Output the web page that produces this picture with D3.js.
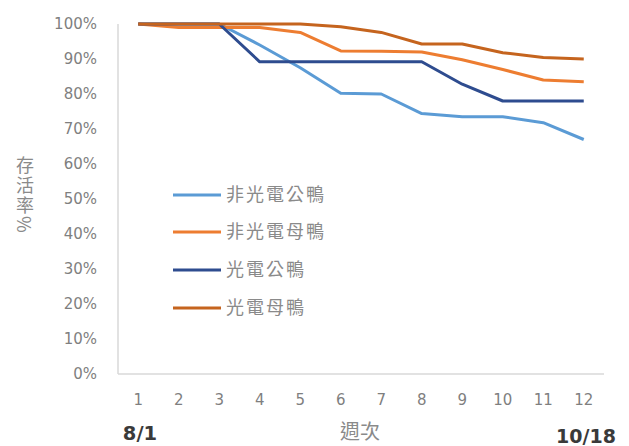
<!DOCTYPE html>
<html><head><meta charset="utf-8">
<script src="https://cdn.jsdelivr.net/npm/d3@7"></script>
<style>body{margin:0;background:#fff}svg{display:block}</style>
</head><body><div id="c"></div>
<script>
const weeks = ["1","2","3","4","5","6","7","8","9","10","11","12"];
const seriesNames = ["非光電公鴨","非光電母鴨","光電公鴨","光電母鴨"];
const nonPvMale   = [100,100,100,94,87.5,80.2,80,74.4,73.5,73.5,71.8,67];
const nonPvFemale = [100,99,99,99,97.6,92.3,92.2,92,89.8,87,84,83.5];
const pvMale      = [100,100,100,89.2,89.2,89.2,89.2,89.2,82.8,78,78,78];
const pvFemale    = [100,100,100,100,100,99.2,97.6,94.3,94.3,91.8,90.4,90];
const colors = ["#5B9BD5","#ED7D31","#2E4C8F","#C5641E"];
const yTicks = [0,10,20,30,40,50,60,70,80,90,100];

const W=629,H=446;
const svg=d3.select("#c").append("svg").attr("width",W).attr("height",H);
const x=d3.scaleBand().domain(weeks).range([118,604]);
const y=d3.scaleLinear().domain([0,100]).range([374,24]);
const font="'DejaVu Sans', sans-serif";
const cjk="'Noto Sans CJK TC','Noto Sans CJK SC',sans-serif";

// axes lines
svg.append("line").attr("x1",118).attr("x2",118).attr("y1",y(100)).attr("y2",y(0)).attr("stroke","#d9d9d9").attr("stroke-width",1.5);
svg.append("line").attr("x1",118).attr("x2",604).attr("y1",y(0)).attr("y2",y(0)).attr("stroke","#d9d9d9").attr("stroke-width",1.5);

// y tick labels
svg.selectAll(".yt").data(yTicks).enter().append("text")
  .attr("x",97).attr("y",d=>y(d)).attr("dy","0.35em").attr("text-anchor","end")
  .attr("font-family",font).attr("font-size",15).attr("fill","#7f7f7f").text(d=>d+"%");

// x tick labels
svg.selectAll(".xt").data(weeks).enter().append("text")
  .attr("x",d=>x(d)+x.bandwidth()/2).attr("y",400).attr("dy","0.35em").attr("text-anchor","middle")
  .attr("font-family",font).attr("font-size",15).attr("fill","#7f7f7f").text(d=>d);

// lines
const data=[nonPvMale,nonPvFemale,pvMale,pvFemale];
const line=d3.line().x((d,i)=>x(weeks[i])+x.bandwidth()/2).y(d=>y(d));
data.forEach((s,k)=>{
  svg.append("path").datum(s).attr("d",line).attr("fill","none")
    .attr("stroke",colors[k]).attr("stroke-width",3).attr("stroke-linejoin","round");
});

// legend
const ly=[195,232,270,308];
seriesNames.forEach((n,k)=>{
  svg.append("line").attr("x1",173).attr("x2",221).attr("y1",ly[k]).attr("y2",ly[k])
    .attr("stroke",colors[k]).attr("stroke-width",3);
  svg.append("text").attr("x",226).attr("y",ly[k]).attr("dy","0.35em")
    .attr("font-family",cjk).attr("font-size",18).attr("letter-spacing",2).attr("fill","#8a8a8a").text(n);
});

// y title vertical
svg.append("text").attr("x",25).attr("y",156).attr("writing-mode","vertical-rl")
  .attr("font-family",cjk).attr("font-size",18).attr("letter-spacing",2).attr("fill","#8a8a8a").text("存活率%");

// x title and dates
svg.append("text").attr("x",360).attr("y",432).attr("dy","0.35em").attr("text-anchor","middle")
  .attr("font-family",cjk).attr("font-size",20).attr("fill","#8a8a8a").text("週次");
svg.append("text").attr("x",140).attr("y",433).attr("dy","0.35em").attr("text-anchor","middle")
  .attr("font-family",font).attr("font-size",19.5).attr("font-weight","bold").attr("fill","#3a3a3a").text("8/1");
svg.append("text").attr("x",586).attr("y",436).attr("dy","0.35em").attr("text-anchor","middle")
  .attr("font-family",font).attr("font-size",19).attr("font-weight","bold").attr("fill","#3a3a3a").text("10/18");
</script></body></html>
